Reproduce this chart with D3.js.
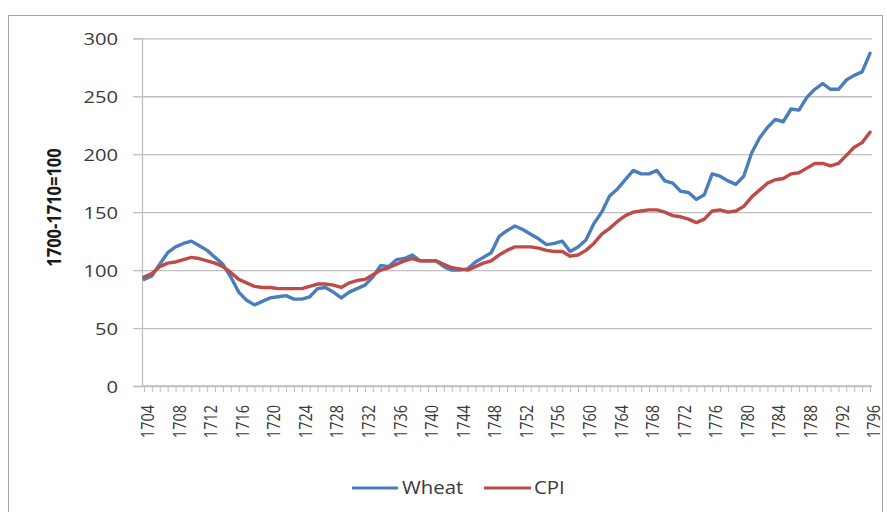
<!DOCTYPE html>
<html><head><meta charset="utf-8">
<script src="https://cdn.jsdelivr.net/npm/d3@7"></script>
<style>
html,body{margin:0;padding:0;background:#fff;}
svg{display:block;font-family:"Open Sans",sans-serif;}
</style></head>
<body><svg id="c" width="887" height="512"></svg>
<script>
const years = [1704,1705,1706,1707,1708,1709,1710,1711,1712,1713,1714,1715,1716,1717,1718,1719,1720,1721,1722,1723,1724,1725,1726,1727,1728,1729,1730,1731,1732,1733,1734,1735,1736,1737,1738,1739,1740,1741,1742,1743,1744,1745,1746,1747,1748,1749,1750,1751,1752,1753,1754,1755,1756,1757,1758,1759,1760,1761,1762,1763,1764,1765,1766,1767,1768,1769,1770,1771,1772,1773,1774,1775,1776,1777,1778,1779,1780,1781,1782,1783,1784,1785,1786,1787,1788,1789,1790,1791,1792,1793,1794,1795,1796];
const wheat = [92,95,105,115,120,123,125,121,117,111,105,94,81,74,70,73,76,77,78,75,75,77,84,85,81,76,81,84,87,94,104,103,109,110,113,108,108,108,103,100,100,101,107,111,115,129,134,138,135,131,127,122,123,125,116,120,126,140,150,164,170,178,186,183,183,186,177,175,168,167,161,165,183,181,177,174,181,201,214,223,230,228,239,238,249,256,261,256,256,264,268,271,287];
const cpi = [94,97,103,106,107,109,111,110,108,106,103,98,92,89,86,85,85,84,84,84,84,86,88,88,87,85,89,91,92,96,100,102,105,108,110,108,108,108,105,102,101,100,103,106,108,113,117,120,120,120,119,117,116,116,112,113,117,123,131,136,142,147,150,151,152,152,150,147,146,144,141,144,151,152,150,151,155,163,169,175,178,179,183,184,188,192,192,190,192,199,206,210,219];
const yTicks = [0,50,100,150,200,250,300];
const xLabels = [1704,1708,1712,1716,1720,1724,1728,1732,1736,1740,1744,1748,1752,1756,1760,1764,1768,1772,1776,1780,1784,1788,1792,1796];
const seriesNames = ["Wheat","CPI"];
const seriesColors = ["#4a7ebb","#be4b48"];
const yTitle = "1700-1710=100";

const svg = d3.select("#c");
const axisX0 = 142, plotRight = 872;
const x = d3.scaleLinear().domain([1704,1796]).range([144,870]);
const y = d3.scaleLinear().domain([0,300]).range([386,38.3]);

// outer frame
svg.append("rect").attr("x",8.5).attr("y",15.5).attr("width",874).attr("height",520)
  .attr("fill","none").attr("stroke","#a6a6a6").attr("stroke-width",1);

// gridlines
const grid = svg.append("g").attr("transform",`translate(${axisX0},0)`)
  .call(d3.axisLeft(y).tickValues(yTicks).tickSize(-(plotRight-axisX0)).tickFormat(""));
grid.select(".domain").remove();
grid.selectAll("line").attr("stroke","#bfbfbf").attr("stroke-width",1.3);

// y axis
const ya = svg.append("g").attr("transform",`translate(${axisX0},0)`)
  .call(d3.axisLeft(y).tickValues(yTicks).tickSize(9).tickPadding(0));
ya.select(".domain").attr("stroke","#bfbfbf").attr("stroke-width",1.3);
ya.selectAll(".tick line").attr("stroke","#bfbfbf").attr("stroke-width",1.3);
ya.selectAll(".tick text").attr("x",null).attr("dy",null)
  .attr("text-anchor","end").attr("dominant-baseline","central")
  .attr("transform","translate(-24,-0.5) scale(1.2,1)")
  .attr("font-size",16.8).attr("fill","#3a3a3a").attr("font-family","Open Sans");

// x axis
const xa = svg.append("g").attr("transform",`translate(0,${y(0)})`)
  .call(d3.axisBottom(x).tickValues(years).tickSize(6)
    .tickFormat(d => xLabels.includes(d) ? String(d) : ""));
xa.select(".domain").attr("d",`M${axisX0},0H${plotRight}`).attr("stroke","#bfbfbf").attr("stroke-width",1.3);
xa.selectAll(".tick line").attr("stroke","#bfbfbf").attr("stroke-width",1);
xa.selectAll(".tick text").attr("y",null).attr("dy","0.35em")
  .attr("text-anchor","end")
  .attr("transform","translate(3,19) rotate(-90) scale(1,1.3)")
  .attr("font-size",14.5).attr("fill","#3a3a3a").attr("font-family","Open Sans");

// y title
svg.append("text").attr("transform","translate(54,207.5) rotate(-90) scale(1,1.15)")
  .attr("text-anchor","middle").attr("dy","0.35em")
  .attr("font-size",16.5).attr("font-weight","bold").attr("fill","#1a1a1a")
  .text(yTitle);

// lines
const line = d3.line().x((d,i)=>x(years[i])).y(d=>y(d));
[wheat,cpi].forEach((s,k)=>{
  svg.append("path").datum(s).attr("d",line).attr("fill","none")
    .attr("stroke",seriesColors[k]).attr("stroke-width",3.4)
    .attr("stroke-linejoin","round").attr("stroke-linecap","round");
});

// legend
const lg = [{x1:352,x2:398,tx:402},{x1:484,x2:531,tx:534}];
seriesNames.forEach((n,k)=>{
  svg.append("line").attr("x1",lg[k].x1).attr("x2",lg[k].x2).attr("y1",488).attr("y2",488)
    .attr("stroke",seriesColors[k]).attr("stroke-width",3.2);
  svg.append("text").attr("transform",`translate(${lg[k].tx},494) scale(1.1,1)`)
    .attr("font-size",18.5).attr("fill","#3a3a3a").text(n);
});
</script></body></html>
